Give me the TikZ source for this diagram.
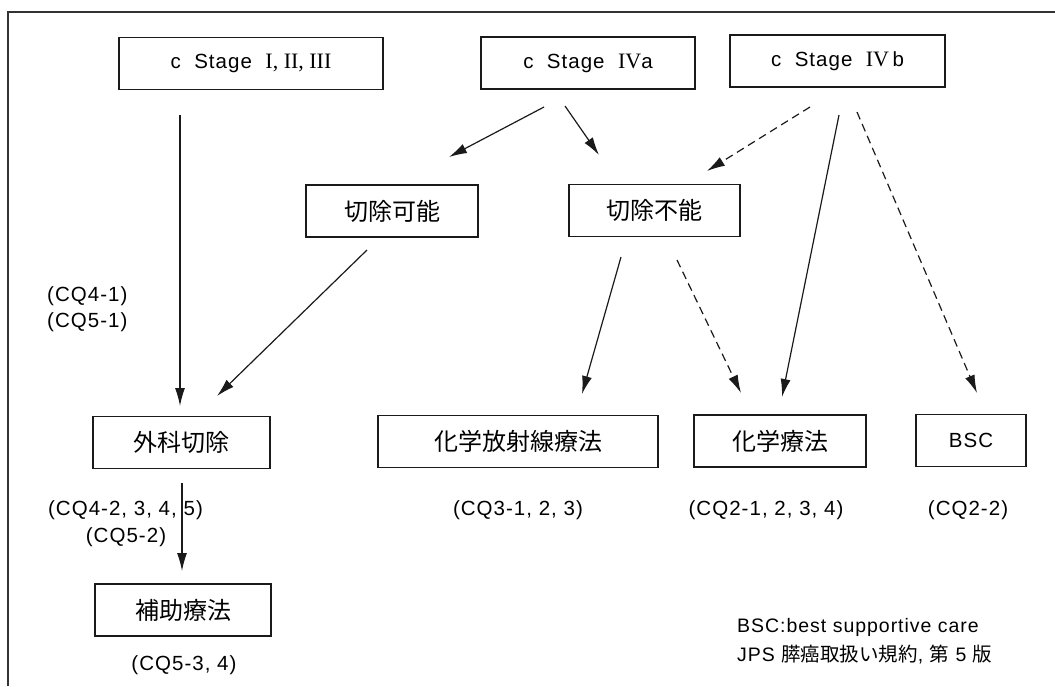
\documentclass[tikz,border=0pt]{standalone}
\usepackage{fontspec}
\usepackage{tikz}
\usetikzlibrary{arrows.meta}
\setmainfont{Liberation Sans}
\newfontfamily\jp{Noto Sans CJK JP}
\newfontfamily\rn{Liberation Serif}
\newfontfamily\cq[LetterSpace=5]{Liberation Sans}
\definecolor{Ink}{HTML}{1A1A1A}
\definecolor{Frame}{HTML}{333333}

\begin{document}
\begin{tikzpicture}[x=1pt,y=-1pt,
  box/.style={draw=Ink,line width=1.1pt,minimum height=52pt,inner sep=0pt},
  sbox/.style={box,font=\cq\fontsize{20.5}{24}\selectfont},
  jbox/.style={box,font=\jp\fontsize{24}{28}\selectfont},
  lbl/.style={font=\cq\fontsize{20.5}{24}\selectfont,inner sep=0pt},
  note/.style={font=\cq\fontsize{19.5}{24}\selectfont,inner sep=0pt,anchor=west},
  arr/.style={Ink,line width=1.2pt,-{Latex[length=18pt,width=10pt]}},
  darr/.style={arr,dash pattern=on 8pt off 5pt}]
  \useasboundingbox (0,0) rectangle (1055,686);
  \draw[Frame,line width=1.3pt] (8,686) -- (8,12) -- (1055,12);

  % stages
  \node[sbox,minimum width=264pt] (st1) at (251,63.5) {c\ \ Stage\ \ {\rn\fontsize{22}{24}\selectfont I, II, III}};
  \node[sbox,minimum width=214pt] (st4a) at (588,63) {c\ \ Stage\ \ {\rn\fontsize{22}{24}\selectfont IV}a};
  \node[sbox,minimum width=215pt] (st4b) at (837.5,61) {c\ \ Stage\ \ {\rn\fontsize{22}{24}\selectfont IV}\,b};

  % resectability
  \node[jbox,minimum width=172pt] (kanou) at (392,211) {切除可能};
  \node[jbox,minimum width=171pt] (funou) at (654.5,210.5) {切除不能};

  % treatments
  \node[jbox,minimum width=177pt] (geka) at (181.5,442.5) {外科切除};
  \node[jbox,minimum width=176pt] (hojo) at (183,610) {補助療法};
  \node[jbox,minimum width=280pt] (crt) at (518,441.5) {化学放射線療法};
  \node[jbox,minimum width=172pt] (chemo) at (780,441) {化学療法};
  \node[sbox,minimum width=110pt] (bsc) at (971,440.5) {BSC};

  % CQ labels
  \node[lbl,anchor=west] (cq41) at (47,296) {(CQ4-1)};
  \node[lbl,anchor=west] (cq51) at (47,322) {(CQ5-1)};
  \node[lbl] (cq42) at (125.5,510) {(CQ4-2, 3, 4, 5)};
  \node[lbl] (cq52) at (126,537) {(CQ5-2)};
  \node[lbl] (cq534) at (184,665) {(CQ5-3, 4)};
  \node[lbl] (cq31) at (518,510) {(CQ3-1, 2, 3)};
  \node[lbl] (cq21) at (766,510) {(CQ2-1, 2, 3, 4)};
  \node[lbl] (cq22) at (968,510) {(CQ2-2)};

  % footnote
  \node[note] (note1) at (737,627) {BSC:best supportive care};
  \node[note] (note2) at (737,654) {JPS {\jp 膵癌取扱い規約}, {\jp 第} 5 {\jp 版}};

  % arrow ends
  \coordinate (st1-out) at (180,115);
  \coordinate (geka-in) at (180,406);
  \coordinate (st4a-l) at (544,107);
  \coordinate (kanou-in) at (449,157);
  \coordinate (st4a-r) at (565,106);
  \coordinate (funou-in) at (599,155);
  \coordinate (st4b-l) at (810,107);
  \coordinate (funou-in2) at (707,171);
  \coordinate (st4b-m) at (839,115);
  \coordinate (chemo-in2) at (782,397);
  \coordinate (st4b-r) at (857,112);
  \coordinate (bsc-in) at (977,393);
  \coordinate (kanou-out) at (367,250);
  \coordinate (geka-in2) at (217,396);
  \coordinate (funou-l) at (621,257);
  \coordinate (crt-in) at (582,394);
  \coordinate (funou-r) at (677,260);
  \coordinate (chemo-in) at (741,393);
  \coordinate (geka-out) at (182,483);
  \coordinate (hojo-in) at (182,571);

  \foreach \a/\b in {st1-out/geka-in, st4a-l/kanou-in, st4a-r/funou-in,
      st4b-m/chemo-in2, kanou-out/geka-in2, funou-l/crt-in, geka-out/hojo-in}
    \draw[arr] (\a) -- (\b);
  \foreach \a/\b in {st4b-l/funou-in2, st4b-r/bsc-in, funou-r/chemo-in}
    \draw[darr] (\a) -- (\b);
\end{tikzpicture}
\end{document}
